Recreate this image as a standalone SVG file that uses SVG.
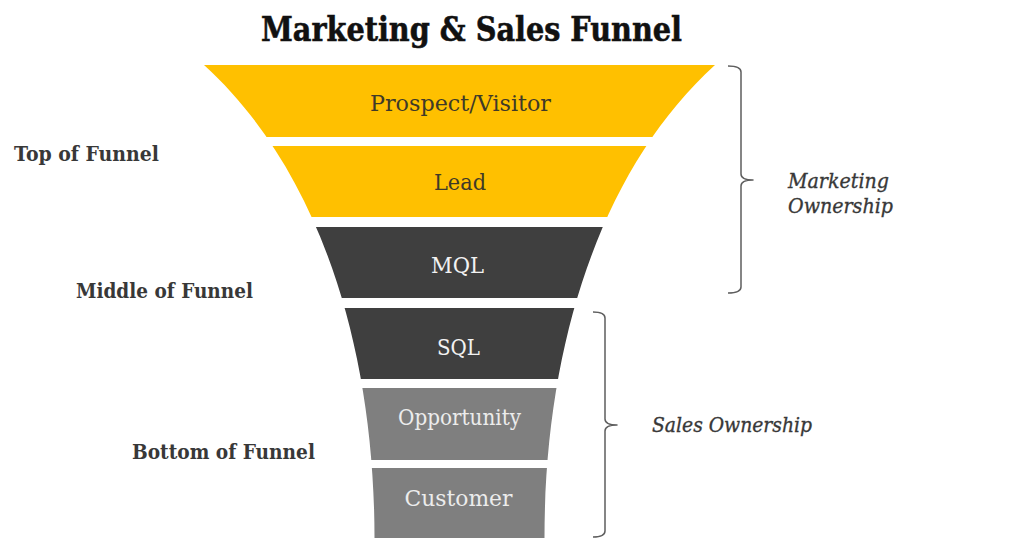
<svg xmlns="http://www.w3.org/2000/svg" width="1024" height="538" viewBox="0 0 1024 538">
  <style>
    .title { font-family: "DejaVu Serif", "Liberation Serif", serif; font-weight: bold; font-size: 34px; fill: #111111; stroke: #111111; stroke-width: 0.6; }
    .band { font-family: "DejaVu Serif", "Liberation Serif", serif; font-size: 23px; text-anchor: middle; }
    .dark-txt { fill: #3f3a28; }
    .light-txt { fill: #f2f2f2; }
    .grey-txt { fill: #ececec; }
    .stage { font-family: "DejaVu Serif", "Liberation Serif", serif; font-weight: bold; font-size: 20px; fill: #383838; }
    .owner { font-family: "DejaVu Serif", "Liberation Serif", serif; font-style: italic; font-size: 21px; fill: #383838; stroke: #383838; stroke-width: 0.35; }
    .brace { fill: none; stroke: #5e5e5e; stroke-width: 1.5; stroke-linejoin: round; }
    .yellow { fill: #FFC000; }
    .dark { fill: #3F3F3F; }
    .grey { fill: #7F7F7F; }
  </style>
  <defs>
    <clipPath id="funnel">
      <path d="M204,65 L715,65 C605,165 544.5,337 544.5,538 L374.5,538 C374.5,337 314,165 204,65 Z"/>
    </clipPath>
  </defs>
  <rect width="1024" height="538" fill="#ffffff"/>

  <text class="title" x="261" y="41" textLength="421" lengthAdjust="spacingAndGlyphs">Marketing &amp; Sales Funnel</text>

  <g id="prospect">
    <rect class="yellow" x="190" y="65" width="540" height="72" clip-path="url(#funnel)"/>
    <text class="band dark-txt" x="460.5" y="111" textLength="181" lengthAdjust="spacingAndGlyphs">Prospect/Visitor</text>
  </g>
  <g id="lead">
    <rect class="yellow" x="190" y="146" width="540" height="71" clip-path="url(#funnel)"/>
    <text class="band dark-txt" x="460" y="190" textLength="52" lengthAdjust="spacingAndGlyphs">Lead</text>
  </g>
  <g id="mql">
    <rect class="dark" x="190" y="227" width="540" height="71" clip-path="url(#funnel)"/>
    <text class="band light-txt" x="457.5" y="273" textLength="53" lengthAdjust="spacingAndGlyphs">MQL</text>
  </g>
  <g id="sql">
    <rect class="dark" x="190" y="308" width="540" height="71" clip-path="url(#funnel)"/>
    <text class="band light-txt" x="458.5" y="355" textLength="43" lengthAdjust="spacingAndGlyphs">SQL</text>
  </g>
  <g id="opportunity">
    <rect class="grey" x="190" y="388" width="540" height="72" clip-path="url(#funnel)"/>
    <text class="band grey-txt" x="459.5" y="425" textLength="123" lengthAdjust="spacingAndGlyphs">Opportunity</text>
  </g>
  <g id="customer">
    <rect class="grey" x="190" y="468" width="540" height="70" clip-path="url(#funnel)"/>
    <text class="band grey-txt" x="458.5" y="506" textLength="108" lengthAdjust="spacingAndGlyphs">Customer</text>
  </g>

  <g id="stage-labels">
    <text class="stage" x="14" y="161" textLength="145" lengthAdjust="spacingAndGlyphs">Top of Funnel</text>
    <text class="stage" x="76" y="298" textLength="177" lengthAdjust="spacingAndGlyphs">Middle of Funnel</text>
    <text class="stage" x="132" y="459" textLength="183" lengthAdjust="spacingAndGlyphs">Bottom of Funnel</text>
  </g>

  <g id="brackets">
    <path class="brace" d="M728,66 Q741,66 741,72 L741,174 Q741,180 753,180 Q741,180 741,186 L741,287 Q741,293 728,293"/>
    <path class="brace" d="M593,312 Q605,312 605,318 L605,419 Q605,425 617,425 Q605,425 605,431 L605,531 Q605,537 593,537"/>
  </g>

  <g id="marketing-ownership">
    <text class="owner" x="788" y="188" textLength="101" lengthAdjust="spacingAndGlyphs">Marketing</text>
    <text class="owner" x="788" y="213" textLength="105" lengthAdjust="spacingAndGlyphs">Ownership</text>
  </g>
  <g id="sales-ownership">
    <text class="owner" x="652" y="432" textLength="160" lengthAdjust="spacingAndGlyphs">Sales Ownership</text>
  </g>
</svg>
